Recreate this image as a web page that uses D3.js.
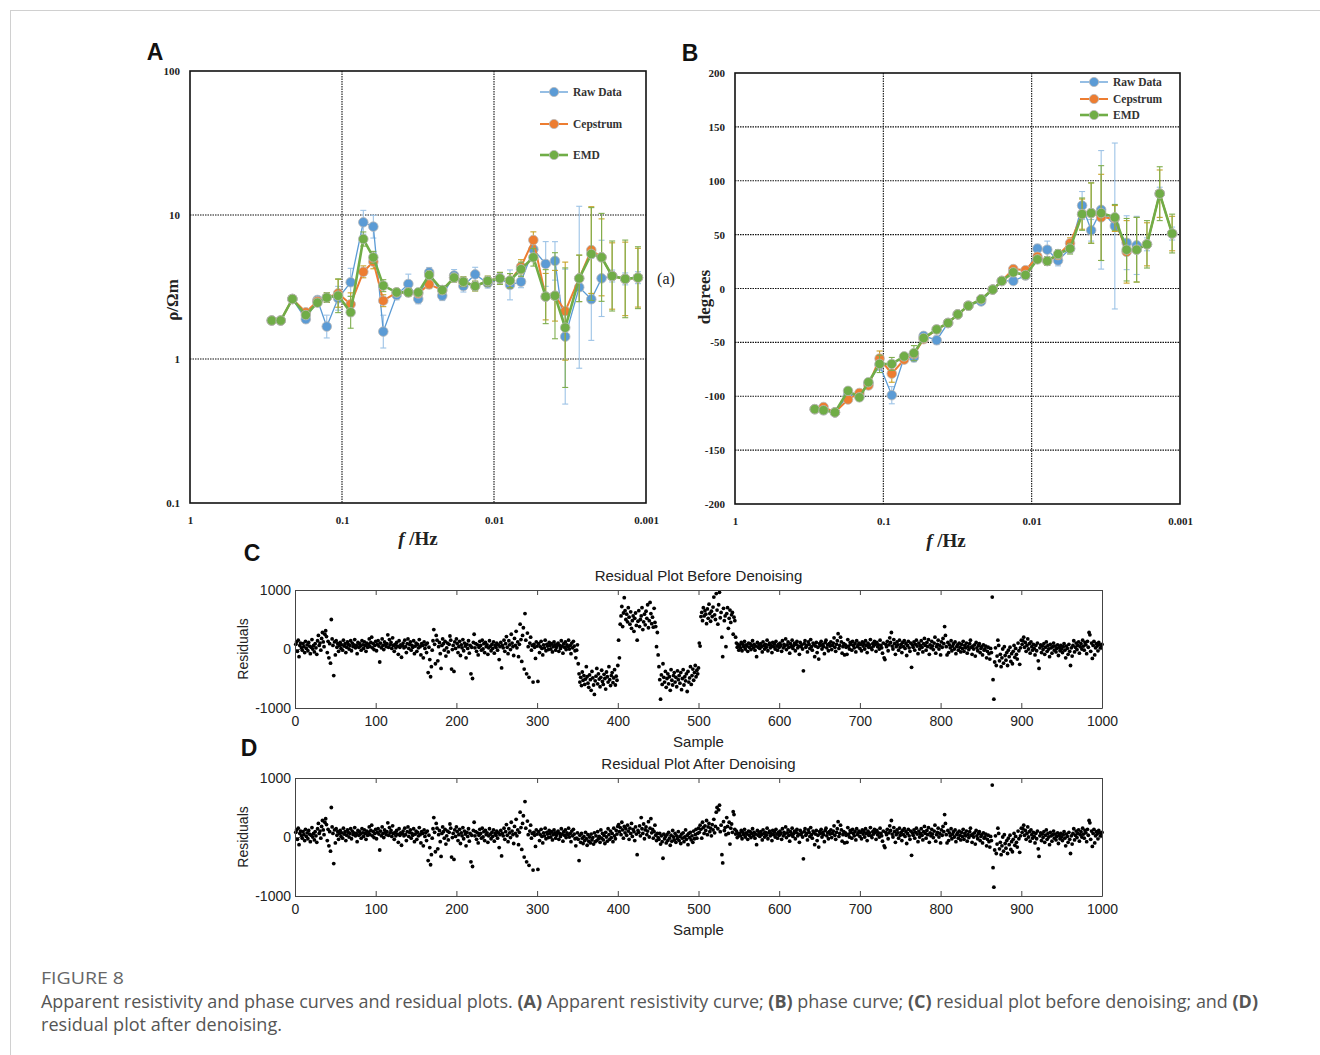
<!DOCTYPE html>
<html>
<head>
<meta charset="utf-8">
<script src="https://d3js.org/d3.v7.min.js"></script>
<style>
  body { margin: 0; background: #fff; }
  .serif { font-family: "Liberation Serif", "Times New Roman", serif; }
  .sans { font-family: "Liberation Sans", Arial, sans-serif; }
</style>
</head>
<body>
<script>

// ---- panels A and B: frequencies (Hz), shared ----
var freq = [0.290,0.253,0.212,0.173,0.145,0.126,0.106,0.0877,0.0724,0.0622,0.0535,0.0437,0.0366,0.0315,0.0267,0.0219,0.0183,0.0159,0.0133,0.0110,0.00914,0.00785,0.00664,0.00551,0.00457,0.00397,0.00340,0.00275,0.00229,0.00196,0.00167,0.00137,0.00113];

// apparent resistivity (ohm m)
var rhoRaw = [1.85,1.85,2.61,1.89,2.57,1.68,2.64,3.41,8.9,8.3,1.55,2.78,3.32,2.61,4.0,2.75,3.8,3.21,3.87,3.36,3.63,3.27,3.44,5.78,4.57,4.8,1.43,3.15,2.6,3.63,3.77,3.6,3.67];
var rhoCep = [1.85,1.85,2.61,2.11,2.52,2.67,2.86,2.40,4.03,4.74,2.54,2.90,2.90,2.85,3.30,3.01,3.67,3.44,3.21,3.48,3.63,3.5,4.37,6.7,2.71,2.75,2.15,3.63,5.71,5.08,3.77,3.6,3.67];
var rhoEmd = [1.85,1.85,2.61,2.02,2.46,2.67,2.75,2.11,6.81,5.08,3.23,2.90,2.90,2.90,3.83,3.01,3.67,3.44,3.21,3.48,3.63,3.5,4.2,5.08,2.71,2.75,1.65,3.63,5.36,5.08,3.77,3.6,3.67];
// error bars as multiplicative factors
var rhoRawErr = [1.05,1.05,1.06,1.06,1.06,1.2,1.21,1.25,1.21,1.2,1.3,1.08,1.17,1.08,1.08,1.08,1.1,1.1,1.12,1.08,1.08,1.27,1.1,1.12,1.43,1.36,2.94,3.65,1.93,1.84,1.1,1.1,1.1];
var rhoCepErr = [1.04,1.04,1.05,1.05,1.05,1.08,1.25,1.2,1.1,1.12,1.1,1.06,1.06,1.06,1.07,1.07,1.07,1.08,1.08,1.08,1.1,1.12,1.12,1.14,1.45,1.5,2.19,1.45,2.0,1.85,1.7,1.8,1.6];
var rhoEmdErr = [1.04,1.04,1.05,1.05,1.05,1.08,1.31,1.29,1.12,1.1,1.1,1.06,1.06,1.06,1.07,1.07,1.07,1.08,1.08,1.08,1.1,1.12,1.12,1.15,1.54,1.99,2.6,1.45,2.1,2.02,1.75,1.86,1.64];

// phase (degrees)
var phaseRaw = [-112,-113,-115,-99,-100,-88,-71,-99,-64,-64,-44,-48,-32,-24,-16,-12,-1,7,7,12,37,36,26,37,77,54,73,58,42.5,40,41,88,51];
var phaseCep = [-112,-110,-115,-103,-97,-90,-65,-79,-66,-61,-47,-38,-32,-24,-16,-10,-1,7,18,17,29.5,25.5,31,42,69,70,66,65,34,36,41,88,51];
var phaseEmd = [-112,-113,-115,-95,-101,-87,-70,-70,-63,-60,-46,-38,-32,-24,-16,-10,-1,7,15,12.5,27,25.5,32,37,69,70,70,66,36,36,41,88,51];
var phaseRawErr = [2,2,2,3,3,3,5,8,3,4,3,4,2,2,2,2,2,2,3,3,4,8,5,4,13,10,55,77,25,27,6,6,6];
var phaseCepErr = [2,2,2,3,3,3,7,8,3,3,3,3,2,2,2,2,2,2,3,3,3,4,4,5,14,28,40,12,29,30,20,22,16];
var phaseEmdErr = [2,2,2,3,3,3,8,6,3,7,3,3,2,2,2,2,2,2,3,3,3,4,4,5,15,28,44,12,29,30,22,25,18];

var seriesNames = ["Raw Data", "Cepstrum", "EMD"];
var freqTicks = [1, 0.1, 0.01, 0.001];
var rhoTicks = [0.1, 1, 10, 100];
var phaseTicks = [-200,-150,-100,-50,0,50,100,150,200];

// ---- panels C and D: residuals per sample ----
// samples 1-350 (same in both plots)
var residualStart = [
80,120,-40,150,-130,60,100,20,-20,90,40,-60,130,10,70,-30,110,50,-80,30,160,0,60,-50,90,
20,-90,140,230,60,100,-20,180,280,120,40,250,310,210,-60,130,-150,90,-240,500,170,60,-450,120,-100,
140,30,90,-40,60,110,10,70,-20,150,50,90,-60,30,120,80,0,60,140,-30,100,40,70,160,20,
60,-80,110,30,90,50,-20,140,70,10,120,60,-40,100,30,80,170,40,110,200,20,90,-10,60,130,
-30,80,140,50,-220,100,20,170,60,-10,120,80,40,90,240,30,160,70,110,10,190,60,-40,80,20,
110,50,-90,140,30,70,-140,60,100,20,150,40,-60,90,170,10,80,120,-20,60,30,140,-80,50,100,
-40,80,20,160,40,-100,90,60,-150,120,10,70,-60,100,-400,30,-180,-470,-300,-20,140,330,80,-250,230,
150,-200,40,110,-80,-330,60,170,90,-20,130,-120,20,100,-50,80,220,150,-340,-10,60,-380,120,10,170,
90,-60,40,130,-110,70,20,160,-30,100,50,-150,80,10,140,-70,60,-420,30,-500,110,250,20,90,-40,
70,-100,30,130,60,-20,150,0,90,-60,110,40,70,-90,20,140,50,-30,80,10,120,-70,60,30,100,
-20,70,-180,40,110,-320,60,20,150,-40,90,210,30,-80,140,70,-10,250,100,40,-110,180,60,300,20,
120,-130,80,420,160,-210,230,360,-340,600,150,-420,270,40,-480,100,200,-20,60,-560,80,30,-160,120,50,
-550,90,-60,40,130,10,-100,70,20,150,-30,80,50,-10,110,60,0,90,-50,40,120,70,-20,30,80,
100,-40,60,10,140,50,-70,90,30,120,-10,70,40,150,0,60,-80,100,20,130,50,-30,-150,-20,70
];
// samples 351-550 before denoising
var residualMidBefore = [
-250,-420,-560,-480,-620,-390,-530,-450,-600,-510,-300,-470,-580,-650,-440,-520,-700,-380,-490,-610,-770,-540,-460,-330,-590,
-420,-510,-640,-480,-360,-550,-600,-430,-500,-680,-390,-470,-560,-300,-520,-620,-450,-400,-570,-490,-350,-610,-460,-530,-280,
150,-150,420,560,720,380,610,870,650,500,590,460,700,540,420,630,350,480,560,300,520,610,400,150,470,
650,380,500,560,700,330,460,590,410,640,520,750,360,480,790,600,430,540,370,690,450,380,40,280,-100,
-300,-520,-850,-440,-600,-250,-480,-560,-380,-650,-500,-420,-590,-470,-700,-350,-530,-610,-450,-400,-560,-480,-640,-370,-520,
-450,-580,-400,-690,-500,-350,-610,-470,-540,-420,-720,-380,-560,-490,-300,-600,-450,-340,-530,-400,-280,-470,-360,-420,-320,
100,50,550,620,480,700,560,650,590,430,680,520,760,600,470,640,550,710,880,580,500,940,660,420,750,
960,530,620,200,-130,690,480,560,40,600,700,350,520,660,450,580,620,250,540,480,200,100,30,80,-20
];
// samples 351-550 after denoising
var residualMidAfter = [
-40,-400,30,-90,60,-20,-110,10,-60,80,-30,-140,40,-70,0,-100,50,-50,-10,-120,70,-80,20,-60,90,
-30,10,-90,120,-20,60,-50,30,-110,80,0,-70,140,40,-40,100,-10,60,-80,150,20,-30,110,50,180,
210,90,160,40,250,120,-20,180,70,140,30,200,100,-40,150,60,230,10,130,90,-60,170,50,-300,110,
80,190,20,330,140,60,220,-30,120,170,40,100,260,0,150,310,70,130,-20,90,200,30,-60,60,-10,
-40,60,-120,20,-80,-360,50,-30,10,-100,40,-60,80,-20,-140,30,-70,110,0,-50,60,-90,20,-30,90,
-60,10,-110,50,-20,70,-80,0,120,-40,30,-130,60,-10,80,-50,20,-90,100,-30,40,130,-20,60,150,
80,200,130,-20,250,160,60,190,110,280,40,170,230,90,150,20,210,120,300,70,180,420,500,140,460,
540,90,200,-300,-440,260,110,160,40,330,180,60,250,-120,150,220,80,430,380,130,50,100,-10,60,20
];
// samples 551-1000 (same in both plots)
var residualEnd = [
60,20,110,-30,80,40,130,0,70,50,-40,100,30,90,-10,60,140,20,80,-20,50,-130,110,30,70,
10,90,40,-50,120,60,0,80,30,150,-30,70,100,20,60,-60,110,40,90,0,130,50,-20,80,30,
100,60,-40,140,20,80,50,170,-10,70,120,30,-70,90,40,150,10,60,100,-30,80,130,20,50,-90,
110,40,70,0,-370,90,140,30,60,-50,120,80,10,160,40,-20,100,70,-130,50,110,-60,30,-170,90,
60,130,0,80,40,-80,110,150,20,70,-30,90,50,120,-10,60,100,190,30,-40,80,140,260,10,60,
200,120,-70,40,90,-100,70,30,-90,160,50,0,110,80,-20,130,60,20,90,-50,140,40,70,100,10,
80,-30,120,50,90,0,140,60,-60,100,30,70,160,20,-10,90,50,130,80,-40,110,40,70,0,150,
60,20,-70,100,-150,-180,80,40,130,-30,70,190,110,280,50,0,160,90,-90,40,120,70,-20,150,30,
80,-60,110,40,140,10,90,-110,60,130,20,-40,100,-310,70,30,120,-20,80,150,50,-80,100,0,60,
140,30,-50,90,180,60,-20,110,40,160,-90,70,20,130,50,-10,100,200,-70,40,80,150,0,60,-100,
120,30,180,90,380,230,40,-100,110,-60,70,20,140,-30,50,90,0,120,-80,40,70,-20,100,30,-50,
80,10,130,-40,60,20,100,-70,40,-10,90,150,30,-90,50,0,70,-120,110,20,-30,60,90,-60,10,
40,-100,70,-20,0,50,-150,-40,30,-80,-170,10,-60,880,-520,-850,-220,20,-280,-120,150,60,-200,-90,-300,
-150,0,-240,40,-110,-190,-60,-280,-20,-130,30,-210,-80,-250,-40,60,-140,10,-90,-170,100,-30,-260,20,150,
80,140,200,30,110,-40,60,170,0,90,-70,120,40,-20,80,10,-100,60,-30,100,-200,-330,20,70,-60,
50,-10,90,-90,30,120,-40,60,0,-130,80,20,-70,40,100,-20,50,-50,10,70,-110,30,-30,60,0,
-60,40,90,-20,-150,50,10,-90,80,-40,-280,20,-120,60,140,-50,30,100,-10,60,120,-70,40,90,0,
150,50,-20,110,70,-80,130,30,280,240,-40,100,-160,60,130,-100,20,90,50,-30,110,70,10,60,80
];
var sampleTicks = [0,100,200,300,400,500,600,700,800,900,1000];
var residualTicks = [-1000, 0, 1000];

var residualBefore = residualStart.concat(residualMidBefore, residualEnd);
var residualAfter = residualStart.concat(residualMidAfter, residualEnd);

// ---- svg ----
var W = 1320, H = 1055;
var svg = d3.select("body").append("svg").attr("width", W).attr("height", H);

// page border
svg.append("line").attr("x1", 10).attr("x2", W).attr("y1", 10.5).attr("y2", 10.5).attr("stroke", "#d0d0d0");
svg.append("line").attr("x1", 10.5).attr("x2", 10.5).attr("y1", 10).attr("y2", H).attr("stroke", "#d0d0d0");

var colors = ["#5b9bd5", "#ed7d31", "#70ad47"];
var errColors = ["#9dc3e6", "#c9a227", "#7fae4e"];
var lineWidths = [1.3, 2, 2.6];

function serifText(x, y, txt, size, anchor) {
  return svg.append("text").attr("class", "serif").attr("x", x).attr("y", y)
    .attr("font-size", size).attr("font-weight", "bold").attr("text-anchor", anchor || "middle")
    .attr("fill", "#222").text(txt);
}

// draws one A/B style panel
function logPanel(opt) {
  var x = d3.scaleLog().domain([1, 0.001]).range([opt.left, opt.right]);
  var y = opt.y;
  var g = svg.append("g");

  // grid
  opt.hGrid.forEach(function(v) {
    g.append("line").attr("x1", opt.left).attr("x2", opt.right).attr("y1", y(v)).attr("y2", y(v))
      .attr("stroke", "#111").attr("stroke-width", 1.1).attr("stroke-dasharray", "1.5,1");
  });
  [0.1, 0.01].forEach(function(v) {
    g.append("line").attr("x1", x(v)).attr("x2", x(v)).attr("y1", opt.top).attr("y2", opt.bottom)
      .attr("stroke", "#111").attr("stroke-width", 1.1).attr("stroke-dasharray", "1.5,1");
  });

  // axes (labels only)
  var xa = g.append("g").attr("transform", "translate(0," + (opt.bottom + 10) + ")")
    .call(d3.axisBottom(x).tickValues(freqTicks).tickSize(0).tickFormat(function(d) { return String(d); }));
  var ya = g.append("g").attr("transform", "translate(" + (opt.left - 7) + ",0)")
    .call(d3.axisLeft(y).tickValues(opt.yTicks).tickSize(0).tickFormat(function(d) { return String(d); }));
  [xa, ya].forEach(function(a) {
    a.select(".domain").remove();
    a.selectAll("text").attr("class", "serif").attr("font-size", 11).attr("font-weight", "bold").attr("fill", "#222");
  });

  // series
  opt.series.forEach(function(s, k) {
    var pts = freq.map(function(f, i) { return { f: f, v: s.vals[i], lo: s.lo(i), hi: s.hi(i) }; });
    var eb = g.append("g").attr("stroke", errColors[k]).attr("stroke-width", 1.1);
    pts.forEach(function(p) {
      var px = x(p.f);
      eb.append("line").attr("x1", px).attr("x2", px).attr("y1", y(p.lo)).attr("y2", y(p.hi));
      eb.append("line").attr("x1", px - 3).attr("x2", px + 3).attr("y1", y(p.lo)).attr("y2", y(p.lo));
      eb.append("line").attr("x1", px - 3).attr("x2", px + 3).attr("y1", y(p.hi)).attr("y2", y(p.hi));
    });
    g.append("path").datum(pts).attr("fill", "none").attr("stroke", colors[k]).attr("stroke-width", lineWidths[k])
      .attr("d", d3.line().x(function(p) { return x(p.f); }).y(function(p) { return y(p.v); }));
    g.selectAll(null).data(pts).enter().append("circle")
      .attr("cx", function(p) { return x(p.f); }).attr("cy", function(p) { return y(p.v); })
      .attr("r", 4.8).attr("fill", colors[k]).attr("stroke", "#b8b8b8").attr("stroke-width", 0.8);
  });

  // frame
  g.append("rect").attr("x", opt.left).attr("y", opt.top).attr("width", opt.right - opt.left)
    .attr("height", opt.bottom - opt.top).attr("fill", "none").attr("stroke", "#111").attr("stroke-width", 1.6);

  // legend
  seriesNames.forEach(function(n, k) {
    var ly = opt.legY[k];
    g.append("line").attr("x1", opt.legX).attr("x2", opt.legX + 28).attr("y1", ly).attr("y2", ly)
      .attr("stroke", colors[k]).attr("stroke-width", lineWidths[k]);
    g.append("circle").attr("cx", opt.legX + 14).attr("cy", ly).attr("r", 4.6).attr("fill", colors[k])
      .attr("stroke", "#b8b8b8").attr("stroke-width", 0.8);
    g.append("text").attr("class", "serif").attr("x", opt.legX + 33).attr("y", ly + 4)
      .attr("font-size", 11.5).attr("font-weight", "bold").attr("fill", "#333").text(n);
  });
  return x;
}

// panel A
var yRho = d3.scaleLog().domain([0.1, 100]).range([503, 71]);
logPanel({
  left: 190, right: 646, top: 71, bottom: 503, y: yRho, yTicks: rhoTicks, hGrid: [1, 10],
  legX: 540, legY: [92, 124, 155],
  series: [
    { vals: rhoRaw, lo: function(i) { return rhoRaw[i] / rhoRawErr[i]; }, hi: function(i) { return rhoRaw[i] * rhoRawErr[i]; } },
    { vals: rhoCep, lo: function(i) { return rhoCep[i] / rhoCepErr[i]; }, hi: function(i) { return rhoCep[i] * rhoCepErr[i]; } },
    { vals: rhoEmd, lo: function(i) { return rhoEmd[i] / rhoEmdErr[i]; }, hi: function(i) { return rhoEmd[i] * rhoEmdErr[i]; } }
  ]
});

// panel B
var yPhase = d3.scaleLinear().domain([-200, 200]).range([504, 73]);
logPanel({
  left: 735, right: 1180, top: 73, bottom: 504, y: yPhase, yTicks: phaseTicks, hGrid: [-150,-100,-50,0,50,100,150],
  legX: 1080, legY: [82, 99, 115],
  series: [
    { vals: phaseRaw, lo: function(i) { return phaseRaw[i] - phaseRawErr[i]; }, hi: function(i) { return phaseRaw[i] + phaseRawErr[i]; } },
    { vals: phaseCep, lo: function(i) { return phaseCep[i] - phaseCepErr[i]; }, hi: function(i) { return phaseCep[i] + phaseCepErr[i]; } },
    { vals: phaseEmd, lo: function(i) { return phaseEmd[i] - phaseEmdErr[i]; }, hi: function(i) { return phaseEmd[i] + phaseEmdErr[i]; } }
  ]
});

// axis titles A/B
serifText(0, 0, "ρ/Ωm", 17).attr("transform", "translate(178,300) rotate(-90)");
serifText(0, 0, "degrees", 17).attr("transform", "translate(710,297) rotate(-90)");
function fHz(cx, cy) {
  var t = serifText(cx, cy, "", 19);
  t.append("tspan").attr("font-style", "italic").text("f");
  t.append("tspan").text(" /Hz");
}
fHz(418, 545);
fHz(946, 547);
svg.append("text").attr("class", "serif").attr("x", 666).attr("y", 284).attr("font-size", 16)
  .attr("text-anchor", "middle").attr("fill", "#222").text("(a)");

// panel letters
[["A", 155, 60], ["B", 690, 61], ["C", 252, 561], ["D", 249, 756]].forEach(function(l) {
  svg.append("text").attr("class", "sans").attr("x", l[1]).attr("y", l[2]).attr("font-size", 23)
    .attr("font-weight", "bold").attr("text-anchor", "middle").attr("fill", "#111").text(l[0]);
});

// residual panels
function residualPanel(top, title, data) {
  var left = 295, right = 1102, h = 118;
  var x = d3.scaleLinear().domain([0, 1000]).range([left, right]);
  var y = d3.scaleLinear().domain([-1000, 1000]).range([top + h, top]);
  var g = svg.append("g");
  var plain = function(d) { return String(d); };

  g.selectAll(null).data(data).enter().append("circle")
    .attr("cx", function(d, i) { return x(i + 1); }).attr("cy", function(d) { return y(d); })
    .attr("r", 1.9).attr("fill", "#000");

  var axes = [
    g.append("g").attr("transform", "translate(0," + (top + h) + ")")
      .call(d3.axisBottom(x).tickValues(sampleTicks).tickSizeInner(-5).tickSizeOuter(0).tickPadding(8).tickFormat(plain)),
    g.append("g").attr("transform", "translate(0," + top + ")")
      .call(d3.axisTop(x).tickValues(sampleTicks).tickSizeInner(-5).tickSizeOuter(0).tickFormat("")),
    g.append("g").attr("transform", "translate(" + left + ",0)")
      .call(d3.axisLeft(y).tickValues(residualTicks).tickSizeInner(-5).tickSizeOuter(0).tickPadding(4).tickFormat(plain)),
    g.append("g").attr("transform", "translate(" + right + ",0)")
      .call(d3.axisRight(y).tickValues(residualTicks).tickSizeInner(-5).tickSizeOuter(0).tickFormat(""))
  ];
  axes.forEach(function(a) {
    a.selectAll("path, line").attr("stroke", "#444");
    a.selectAll("text").attr("class", "sans").attr("font-size", 14).attr("fill", "#222");
  });

  g.append("text").attr("class", "sans").attr("x", (left + right) / 2).attr("y", top - 9)
    .attr("text-anchor", "middle").attr("font-size", 15).attr("fill", "#222").text(title);
  g.append("text").attr("class", "sans").attr("x", (left + right) / 2).attr("y", top + h + 39)
    .attr("text-anchor", "middle").attr("font-size", 15).attr("fill", "#222").text("Sample");
  g.append("text").attr("class", "sans").attr("transform", "translate(248," + (top + h / 2) + ") rotate(-90)")
    .attr("text-anchor", "middle").attr("font-size", 14).attr("fill", "#222").text("Residuals");
}
residualPanel(590, "Residual Plot Before Denoising", residualBefore);
residualPanel(778, "Residual Plot After Denoising", residualAfter);

// caption
svg.append("text").attr("x", 41).attr("y", 984).attr("font-family", "'Open Sans', sans-serif")
  .attr("font-size", 17).attr("fill", "#666").attr("textLength", 83).attr("lengthAdjust", "spacingAndGlyphs")
  .text("FIGURE 8");
var cap1 = [["Apparent resistivity and phase curves and residual plots. ", false], ["(A)", true],
  [" Apparent resistivity curve; ", false], ["(B)", true], [" phase curve; ", false], ["(C)", true],
  [" residual plot before denoising; and ", false], ["(D)", true]];
var t1 = svg.append("text").attr("x", 41).attr("y", 1008).attr("font-family", "'Open Sans', sans-serif")
  .attr("font-size", 17.5).attr("fill", "#555").attr("textLength", 1217).attr("lengthAdjust", "spacingAndGlyphs");
cap1.forEach(function(c) { t1.append("tspan").attr("font-weight", c[1] ? "bold" : "normal").text(c[0]); });
svg.append("text").attr("x", 41).attr("y", 1031).attr("font-family", "'Open Sans', sans-serif")
  .attr("font-size", 17.5).attr("fill", "#555").attr("textLength", 241).attr("lengthAdjust", "spacingAndGlyphs")
  .text("residual plot after denoising.");

</script>
</body>
</html>
